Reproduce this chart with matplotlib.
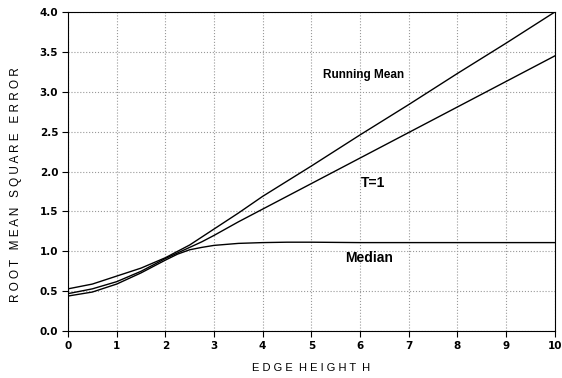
import matplotlib
matplotlib.use('Agg')
import matplotlib.pyplot as plt

# curve values
h = [0, 0.5, 1, 1.5, 2, 2.25, 2.5, 2.75, 3, 3.5, 4, 4.5, 5, 6, 7, 8, 9, 10]
running_mean = [0.53, 0.59, 0.69, 0.79, 0.92, 1.00, 1.08, 1.18, 1.28, 1.48, 1.69, 1.88, 2.07, 2.46, 2.84, 3.23, 3.61, 4.00]
t1 = [0.47, 0.53, 0.62, 0.75, 0.91, 0.98, 1.05, 1.12, 1.20, 1.37, 1.53, 1.69, 1.85, 2.17, 2.49, 2.81, 3.13, 3.45]
median = [0.44, 0.49, 0.59, 0.73, 0.89, 0.965, 1.02, 1.05, 1.075, 1.10, 1.11, 1.115, 1.115, 1.11, 1.11, 1.11, 1.11, 1.11]

xticks = list(range(0, 11))
yticks = [0.0, 0.5, 1.0, 1.5, 2.0, 2.5, 3.0, 3.5, 4.0]

plt.rcParams['font.family'] = ['Liberation Sans', 'DejaVu Sans']

fig = plt.figure(figsize=(5.62, 3.78), dpi=100)
ax = fig.add_axes([0.121, 0.124, 0.866, 0.844])

for y in (running_mean, t1, median):
    ax.plot(h, y, c='black', linewidth=1.0)

ax.set_xlim(0, 10)
ax.set_ylim(0, 4)
ax.set_xticks(xticks)
ax.set_yticks(yticks)
tick_font = dict(family='DejaVu Sans', fontweight='bold', fontsize=7.5)
ax.set_xticklabels([str(v) for v in xticks], **tick_font)
ax.set_yticklabels(['%.1f' % v for v in yticks], **tick_font)
ax.tick_params(axis='both', direction='out', length=4.5, width=0.8, pad=2.5)
ax.grid(True, linestyle=':', color='#999999', linewidth=0.8)

ax.set_xlabel('E D G E  H E I G H T  H', fontsize=8)
ax.xaxis.set_label_coords(0.5, -0.099)
ax.set_ylabel('R O O T   M E A N   S Q U A R E   E R R O R', fontsize=8.5)
ax.yaxis.set_label_coords(-0.094, 0.458)

ax.text(6.08, 3.21, 'Running Mean', fontweight='bold', fontsize=8.5, ha='center', va='center')
ax.text(6.26, 1.86, 'T=1', fontweight='bold', fontsize=10, ha='center', va='center')
ax.text(6.18, 0.915, 'Median', fontweight='bold', fontsize=10, ha='center', va='center')

fig.savefig('out.png', dpi=100)
